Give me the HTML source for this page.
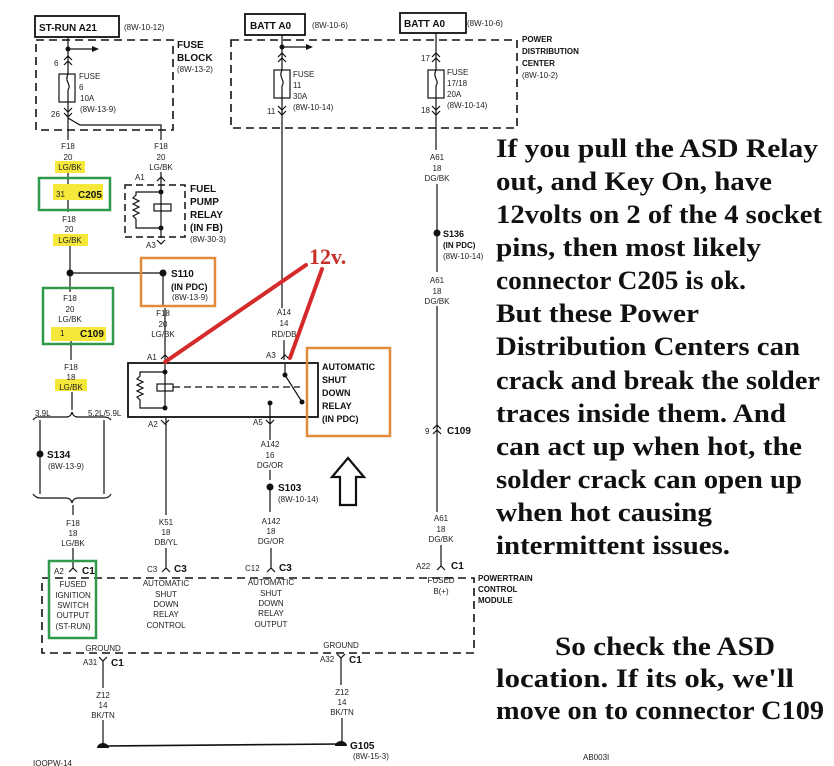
<!DOCTYPE html>
<html><head><meta charset="utf-8"><style>
html,body{margin:0;padding:0;background:#fff}
svg{display:block}
.t{font-family:"Liberation Sans",sans-serif;font-size:8px;fill:#222}
.b{font-family:"Liberation Sans",sans-serif;font-size:10px;font-weight:bold;fill:#111}
.s{font-family:"Liberation Serif",serif;font-size:26px;font-weight:bold;fill:#111}
</style></head><body>
<svg width="834" height="766" viewBox="0 0 834 766" xmlns="http://www.w3.org/2000/svg">
<g stroke="#111" stroke-width="1.2" fill="none">
<rect x="35" y="16" width="84" height="21" stroke-width="1.8"/>
<rect x="245" y="14" width="60" height="21" stroke-width="1.8"/>
<rect x="400" y="13" width="66" height="20" stroke-width="1.8"/>
<path d="M36 40 H173 V130 H36 Z" stroke-dasharray="8 5" stroke-width="1.6"/>
<path d="M231 40 H517 V128 H231 Z" stroke-dasharray="8 5" stroke-width="1.6"/>
<line x1="68" y1="37" x2="68" y2="74"/>
<line x1="68" y1="49" x2="92" y2="49"/>
<rect x="59" y="74" width="16" height="28"/>
<path d="M68 74 c-4 8 4 10 0 16 v12"/>
<line x1="68" y1="102" x2="68" y2="140"/>
<path d="M68 118 L80 125 H161 V140"/>
<line x1="68" y1="172" x2="68" y2="212"/>
<line x1="70" y1="245" x2="70" y2="292"/>
<line x1="70" y1="273" x2="163" y2="273"/>
<line x1="163" y1="273" x2="163" y2="305"/>
<line x1="71" y1="340" x2="71" y2="360"/>
<line x1="72" y1="392" x2="72" y2="410"/>
<path d="M33 420 Q36 416 40 417 H66 Q71 417 72 412 Q73 417 78 417 H104 Q109 417 111 420"/>
<line x1="40" y1="420" x2="40" y2="494"/>
<line x1="104" y1="420" x2="104" y2="494"/>
<path d="M33 494 Q36 498 40 498 H66 Q71 498 72 503 Q73 498 78 498 H104 Q109 498 111 494"/>
<line x1="73" y1="505" x2="73" y2="515"/>
<line x1="73" y1="548" x2="73" y2="568"/>
<path d="M125 185 H185 V237 H125 Z" stroke-dasharray="7 4" stroke-width="1.5"/>
<line x1="161" y1="172" x2="161" y2="238"/>
<rect x="154" y="204" width="17" height="7"/>
<path d="M161 192 H136 V195 l-3 3 6 3 -6 3 6 3 -6 3 6 3 -6 3 3 3 V228 H161"/>
<line x1="282" y1="35" x2="282" y2="70"/>
<line x1="282" y1="47" x2="306" y2="47"/>
<rect x="274" y="70" width="16" height="28"/>
<path d="M282 70 c-4 8 4 10 0 16 v12"/>
<line x1="282" y1="98" x2="282" y2="308"/>
<line x1="284" y1="340" x2="284" y2="360"/>
<line x1="436" y1="33" x2="436" y2="70"/>
<rect x="428" y="70" width="16" height="28"/>
<path d="M436 70 c-4 8 4 10 0 16 v12"/>
<line x1="436" y1="98" x2="436" y2="150"/>
<line x1="437" y1="184" x2="437" y2="272"/>
<line x1="437" y1="306" x2="437" y2="512"/>
<line x1="441" y1="545" x2="441" y2="566"/>
<rect x="128" y="363" width="190" height="54" stroke-width="1.8"/>
<line x1="165" y1="308" x2="165" y2="373"/>
<line x1="165" y1="373" x2="165" y2="410"/>
<rect x="157" y="384" width="16" height="7"/>
<path d="M165 372 H140 V376 l-3 3 6 3 -6 3 6 3 -6 3 6 3 -6 3 3 3 V408 H165"/>
<line x1="173" y1="387" x2="300" y2="387" stroke-dasharray="7 4"/>
<line x1="285" y1="364" x2="285" y2="375"/>
<line x1="285" y1="375" x2="302" y2="402"/>
<line x1="270" y1="403" x2="270" y2="430"/>
<line x1="166" y1="418" x2="166" y2="515"/>
<line x1="270" y1="430" x2="270" y2="440"/>
<line x1="270" y1="470" x2="270" y2="480"/>
<line x1="270" y1="490" x2="270" y2="512"/>
<line x1="166" y1="548" x2="166" y2="568"/>
<line x1="271" y1="548" x2="271" y2="568"/>
<path d="M42 578 H474 V653 H42 Z" stroke-dasharray="8 5" stroke-width="1.6"/>
<line x1="103" y1="660" x2="103" y2="688"/>
<line x1="103" y1="720" x2="103" y2="745"/>
<line x1="341" y1="657" x2="341" y2="685"/>
<line x1="342" y1="718" x2="342" y2="742"/>
<line x1="103" y1="746" x2="340" y2="744" stroke-width="1.6"/>
<path d="M348 458 L364 477 H356 V505 H340 V477 H332 Z" stroke-width="2.2"/>
<path d="M64 65 l4 -4 4 4 M64 60 l4 -4 4 4"/>
<path d="M64 108 l4 4 4 -4 M64 113 l4 4 4 -4"/>
<path d="M278 62 l4 -4 4 4 M278 57 l4 -4 4 4"/>
<path d="M278 106 l4 4 4 -4 M278 111 l4 4 4 -4"/>
<path d="M432 62 l4 -4 4 4 M432 57 l4 -4 4 4"/>
<path d="M432 106 l4 4 4 -4 M432 111 l4 4 4 -4"/>
<path d="M64 191 l4 4 4 -4 M64 196 l4 4 4 -4"/>
<path d="M66 332 l4 -4 4 4 M66 337 l4 -4 4 4"/>
<path d="M433 434 l4 -4 4 4 M433 429 l4 -4 4 4"/>
<path d="M157 181 l4 -4 4 4 M157 240 l4 4 4 -4"/>
<path d="M161 359 l4 -4 4 4 M281 359 l4 -4 4 4"/>
<path d="M161 420 l4 4 4 -4 M266 420 l4 4 4 -4"/>
<path d="M69 572 l4 -4 4 4 M162 572 l4 -4 4 4 M267 572 l4 -4 4 4 M437 570 l4 -4 4 4"/>
<path d="M99 657 l4 4 4 -4 M337 654 l4 4 4 -4"/>
</g>
<g fill="#111">
<path d="M92 46 l7 3 -7 3 Z"/><path d="M306 44 l7 3 -7 3 Z"/>
<circle cx="68" cy="49" r="2.5"/><circle cx="282" cy="47" r="2.5"/>
<circle cx="161" cy="192" r="2.5"/><circle cx="161" cy="228" r="2.5"/>
<circle cx="70" cy="273" r="3.5"/><circle cx="163" cy="273" r="3.5"/>
<circle cx="40" cy="454" r="3.5"/><circle cx="437" cy="233" r="3.5"/>
<circle cx="270" cy="487" r="3.5"/>
<circle cx="165" cy="372" r="2.5"/><circle cx="165" cy="408" r="2.5"/>
<circle cx="285" cy="375" r="2.5"/><circle cx="302" cy="402" r="2.5"/><circle cx="270" cy="403" r="2.5"/>
<path d="M97 748 a6 5 0 0 1 12 0 Z"/><path d="M335 746 a6 5 0 0 1 12 0 Z"/>
</g>
<g fill="#f5e83a">
<rect x="55" y="161" width="30" height="12"/>
<rect x="53" y="184" width="50" height="16"/>
<rect x="53" y="234" width="35" height="12"/>
<rect x="51" y="327" width="55" height="14"/>
<rect x="55" y="379" width="32" height="12"/>
</g>
<g fill="none" stroke-width="2.5">
<rect x="39" y="178" width="71" height="32" stroke="#2e9a4a"/>
<rect x="43" y="288" width="70" height="56" stroke="#2e9a4a"/>
<rect x="49" y="561" width="47" height="77" stroke="#2e9a4a"/>
<rect x="141" y="258" width="74" height="48" stroke="#e08a3a"/>
<rect x="307" y="348" width="83" height="88" stroke="#e08a3a"/>
</g>
<g stroke="#d42a2a" stroke-width="4" stroke-linecap="round">
<line x1="306" y1="265" x2="165" y2="362"/>
<line x1="322" y1="269" x2="290" y2="358"/>
</g>
<text x="309" y="264" font-family="Liberation Serif,serif" font-size="22" font-weight="bold" fill="#c8302a">12v.</text>
<g class="b">
<text x="39" y="31">ST-RUN A21</text>
<text x="250" y="29">BATT A0</text>
<text x="404" y="27">BATT A0</text>
<text x="177" y="48">FUSE</text><text x="177" y="61">BLOCK</text>
<text x="522" y="42" font-size="8">POWER</text><text x="522" y="54" font-size="8">DISTRIBUTION</text><text x="522" y="66" font-size="8">CENTER</text>
<text x="78" y="198">C205</text>
<text x="80" y="337">C109</text>
<text x="190" y="192">FUEL</text><text x="190" y="205">PUMP</text><text x="190" y="218">RELAY</text><text x="190" y="231">(IN FB)</text>
<text x="171" y="277">S110</text><text x="171" y="290" font-size="9">(IN PDC)</text>
<text x="47" y="458">S134</text>
<text x="443" y="237" font-size="9">S136</text><text x="443" y="248" font-size="8">(IN PDC)</text>
<text x="278" y="491">S103</text>
<text x="322" y="370" font-size="9">AUTOMATIC</text><text x="322" y="383" font-size="9">SHUT</text><text x="322" y="396" font-size="9">DOWN</text><text x="322" y="409" font-size="9">RELAY</text><text x="322" y="422" font-size="9">(IN PDC)</text>
<text x="447" y="434">C109</text>
<text x="82" y="574">C1</text><text x="174" y="572">C3</text><text x="279" y="571">C3</text><text x="451" y="569">C1</text>
<text x="478" y="581" font-size="8">POWERTRAIN</text><text x="478" y="592" font-size="8">CONTROL</text><text x="478" y="603" font-size="8">MODULE</text>
<text x="111" y="666">C1</text><text x="349" y="663">C1</text>
<text x="350" y="749">G105</text>
</g>
<g class="t">
<text x="124" y="30">(8W-10-12)</text><text x="312" y="28">(8W-10-6)</text><text x="467" y="26">(8W-10-6)</text>
<text x="177" y="72">(8W-13-2)</text><text x="522" y="78">(8W-10-2)</text>
<text x="54" y="66">6</text><text x="79" y="79">FUSE</text><text x="79" y="90">6</text><text x="80" y="101">10A</text><text x="80" y="112">(8W-13-9)</text><text x="51" y="117">26</text>
<text x="293" y="77">FUSE</text><text x="293" y="88">11</text><text x="293" y="99">30A</text><text x="293" y="110">(8W-10-14)</text><text x="267" y="114">11</text>
<text x="447" y="75">FUSE</text><text x="447" y="86">17/18</text><text x="447" y="97">20A</text><text x="447" y="108">(8W-10-14)</text><text x="421" y="61">17</text><text x="421" y="113">18</text>
<g text-anchor="middle">
<text x="68" y="149">F18</text><text x="68" y="160">20</text><text x="70" y="170">LG/BK</text>
<text x="161" y="149">F18</text><text x="161" y="160">20</text><text x="161" y="170">LG/BK</text>
<text x="69" y="222">F18</text><text x="69" y="232">20</text><text x="70" y="243">LG/BK</text>
<text x="70" y="301">F18</text><text x="70" y="312">20</text><text x="70" y="322">LG/BK</text>
<text x="71" y="370">F18</text><text x="71" y="380">18</text><text x="71" y="390">LG/BK</text>
<text x="73" y="526">F18</text><text x="73" y="536">18</text><text x="73" y="546">LG/BK</text>
<text x="163" y="316">F18</text><text x="163" y="327">20</text><text x="163" y="337">LG/BK</text>
<text x="284" y="315">A14</text><text x="284" y="326">14</text><text x="284" y="337">RD/DB</text>
<text x="437" y="160">A61</text><text x="437" y="171">18</text><text x="437" y="181">DG/BK</text>
<text x="437" y="283">A61</text><text x="437" y="294">18</text><text x="437" y="304">DG/BK</text>
<text x="441" y="521">A61</text><text x="441" y="532">18</text><text x="441" y="542">DG/BK</text>
<text x="270" y="447">A142</text><text x="270" y="458">16</text><text x="270" y="468">DG/OR</text>
<text x="271" y="524">A142</text><text x="271" y="534">18</text><text x="271" y="544">DG/OR</text>
<text x="166" y="525">K51</text><text x="166" y="535">18</text><text x="166" y="545">DB/YL</text>
<text x="73" y="587">FUSED</text><text x="73" y="598">IGNITION</text><text x="73" y="608">SWITCH</text><text x="73" y="618">OUTPUT</text><text x="73" y="629">(ST-RUN)</text>
<text x="166" y="586">AUTOMATIC</text><text x="166" y="597">SHUT</text><text x="166" y="607">DOWN</text><text x="166" y="617">RELAY</text><text x="166" y="628">CONTROL</text>
<text x="271" y="585">AUTOMATIC</text><text x="271" y="596">SHUT</text><text x="271" y="606">DOWN</text><text x="271" y="616">RELAY</text><text x="271" y="627">OUTPUT</text>
<text x="441" y="583">FUSED</text><text x="441" y="594">B(+)</text>
<text x="103" y="651">GROUND</text><text x="341" y="648">GROUND</text>
<text x="103" y="698">Z12</text><text x="103" y="708">14</text><text x="103" y="718">BK/TN</text>
<text x="342" y="695">Z12</text><text x="342" y="705">14</text><text x="342" y="715">BK/TN</text>
</g>
<text x="56" y="197">31</text><text x="60" y="336">1</text>
<text x="135" y="180">A1</text><text x="146" y="248">A3</text>
<text x="172" y="300">(8W-13-9)</text><text x="190" y="242">(8W-30-3)</text>
<text x="48" y="469">(8W-13-9)</text><text x="443" y="259">(8W-10-14)</text><text x="278" y="502">(8W-10-14)</text>
<text x="35" y="416">3.9L</text><text x="88" y="416">5.2L/5.9L</text>
<text x="147" y="360">A1</text><text x="266" y="358">A3</text><text x="148" y="427">A2</text><text x="253" y="425">A5</text>
<text x="425" y="434">9</text>
<text x="54" y="574">A2</text><text x="147" y="572">C3</text><text x="245" y="571">C12</text><text x="416" y="569">A22</text>
<text x="83" y="665">A31</text><text x="320" y="662">A32</text>
<text x="353" y="759">(8W-15-3)</text><text x="33" y="766">IOOPW-14</text><text x="583" y="760">AB003I</text>
</g>
<g class="s" lengthAdjust="spacingAndGlyphs">
<text x="496" y="157" textLength="322" lengthAdjust="spacingAndGlyphs">If you pull the ASD Relay</text>
<text x="496" y="190" textLength="276" lengthAdjust="spacingAndGlyphs">out, and Key On, have</text>
<text x="496" y="223" textLength="326" lengthAdjust="spacingAndGlyphs">12volts on 2 of the 4 socket</text>
<text x="496" y="256" textLength="265" lengthAdjust="spacingAndGlyphs">pins, then most likely</text>
<text x="496" y="289" textLength="250" lengthAdjust="spacingAndGlyphs">connector C205 is ok.</text>
<text x="496" y="322" textLength="203" lengthAdjust="spacingAndGlyphs">But these Power</text>
<text x="496" y="355" textLength="304" lengthAdjust="spacingAndGlyphs">Distribution Centers can</text>
<text x="496" y="389" textLength="324" lengthAdjust="spacingAndGlyphs">crack and break the solder</text>
<text x="496" y="422" textLength="290" lengthAdjust="spacingAndGlyphs">traces inside them. And</text>
<text x="496" y="455" textLength="306" lengthAdjust="spacingAndGlyphs">can act up when hot, the</text>
<text x="496" y="488" textLength="306" lengthAdjust="spacingAndGlyphs">solder crack can open up</text>
<text x="496" y="521" textLength="216" lengthAdjust="spacingAndGlyphs">when hot causing</text>
<text x="496" y="554" textLength="234" lengthAdjust="spacingAndGlyphs">intermittent issues.</text>
<text x="555" y="655" textLength="220" lengthAdjust="spacingAndGlyphs">So check the ASD</text>
<text x="496" y="687" textLength="298" lengthAdjust="spacingAndGlyphs">location. If its ok, we'll</text>
<text x="496" y="719" textLength="328" lengthAdjust="spacingAndGlyphs">move on to connector C109</text>
</g>
</svg>
</body></html>
